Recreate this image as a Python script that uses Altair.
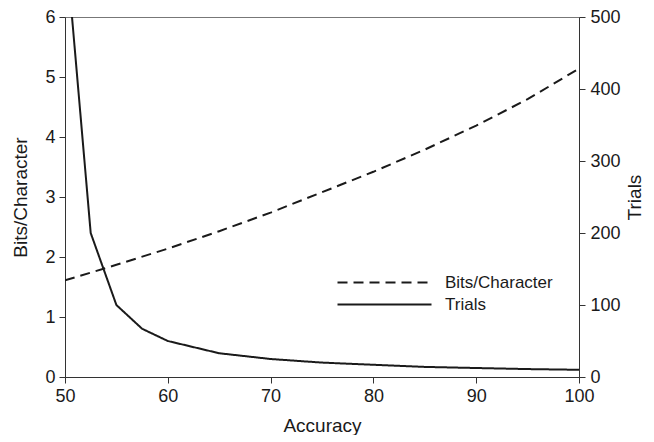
import altair as alt
import pandas as pd

# Data
acc_bits = [50, 55, 60, 65, 70, 75, 80, 85, 90, 95, 100]
bits = [1.61, 1.87, 2.14, 2.43, 2.74, 3.08, 3.42, 3.79, 4.19, 4.63, 5.14]
acc_trials = [50.5, 52.5, 55, 57.5, 60, 65, 70, 75, 80, 85, 90, 95, 100]
trials = [530, 200, 100, 67, 50, 33, 25, 20, 17, 14, 12.5, 11, 10]
series = ["Bits/Character", "Trials"]
x_ticks = [50, 60, 70, 80, 90, 100]
left_ticks = [0, 1, 2, 3, 4, 5, 6]
right_ticks = [0, 100, 200, 300, 400, 500]

df_b = pd.DataFrame({"Accuracy": acc_bits, "value": bits, "series": series[0]})
df_t = pd.DataFrame({"Accuracy": acc_trials, "value": trials, "series": series[1]})

FONT = "Liberation Sans"
INK = "#1a1a1a"

axis_style = dict(
    domainColor="#333", tickColor="#333", tickSize=6, grid=False,
    labelFont=FONT, labelFontSize=18, labelColor=INK,
    titleFont=FONT, titleFontSize=19, titleFontWeight="normal", titleColor=INK,
    labelFlush=False, labelOverlap=False,
)

x = alt.X("Accuracy:Q", scale=alt.Scale(domain=[50, 100], nice=False, zero=False),
          axis=alt.Axis(values=x_ticks, title="Accuracy", titlePadding=11, labelPadding=4, **axis_style))

dash_scale = alt.Scale(domain=series, range=[[10, 6], [1, 0]])
legend = alt.Legend(
    title=None, orient="none", legendX=311, legendY=257,
    symbolType="M-9.4,0H9.4", symbolSize=100,
    symbolStrokeWidth=2, symbolStrokeColor=INK,
    labelFont=FONT, labelFontSize=17, labelColor=INK, labelOffset=52,
    rowPadding=4, padding=0,
)

bits_line = alt.Chart(df_b).mark_line(color=INK, strokeWidth=2, clip=True).encode(
    x=x,
    y=alt.Y("value:Q", scale=alt.Scale(domain=[0, 6], nice=False),
            axis=alt.Axis(values=left_ticks, title="Bits/Character", titlePadding=14, labelPadding=4, **axis_style)),
    strokeDash=alt.StrokeDash("series:N", scale=dash_scale, legend=legend),
)

trials_line = alt.Chart(df_t).mark_line(color=INK, strokeWidth=2, clip=True).encode(
    x=x,
    y=alt.Y("value:Q", scale=alt.Scale(domain=[0, 500], nice=False),
            axis=alt.Axis(values=right_ticks, orient="right", title="Trials", titleAngle=270,
                          titlePadding=24, labelPadding=5, **axis_style)),
    strokeDash=alt.StrokeDash("series:N", scale=dash_scale, legend=legend),
)

chart = alt.layer(bits_line, trials_line).resolve_scale(y="independent").properties(
    width=514, height=360,
    autosize=alt.AutoSizeParams(type="none"),
    padding={"left": 57, "top": 9, "right": 66, "bottom": 58},
    background="white",
).configure_view(stroke="#777", strokeWidth=1)

chart.save("out.html", embed_options={"renderer": "svg", "actions": False})
